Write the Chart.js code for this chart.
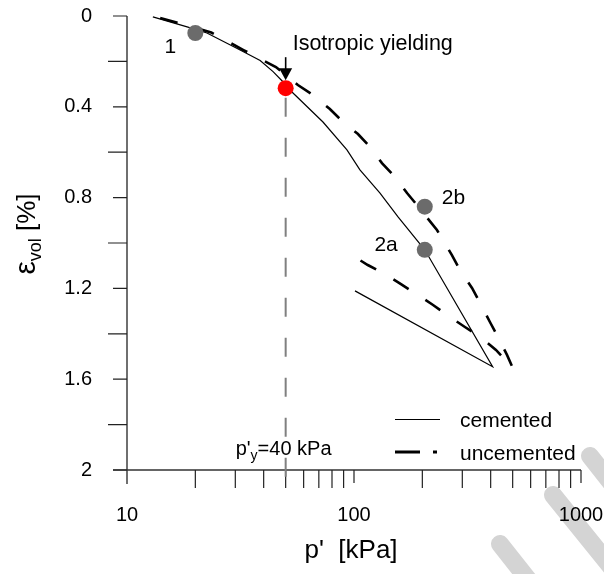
<!DOCTYPE html>
<html><head><meta charset="utf-8">
<script src="https://cdn.jsdelivr.net/npm/chart.js@4.4.1/dist/chart.umd.min.js"></script>
<style>html,body{margin:0;padding:0;background:#fff}#wrap{width:604px;height:574px}</style>
</head><body><div id="wrap"><canvas id="c" width="604" height="574"></canvas></div>
<script>
// ---- data ----
const cementedP   = [13.0, 18.4, 22.5, 31.5, 38.6, 44.0, 50.2, 53.3, 73.0, 93.1, 106.2, 130.2, 156.3, 205, 408, 101];
const cementedEps = [0.004, 0.048, 0.075, 0.150, 0.196, 0.245, 0.304, 0.335, 0.467, 0.590, 0.678, 0.780, 0.885, 1.030, 1.545, 1.211];

const uncementedP   = [14.0, 17.5, 23.5, 32.6, 45.3, 56.6, 65.9, 78.3, 89.5, 104.1, 117.7, 132.8, 151.6, 171.2, 189.5, 232, 270, 293, 331, 359, 397, 431, 472, 501,
                       422, 366, 308, 265, 223, 191, 161, 137, 115, 101];
const uncementedEps = [0.009, 0.035, 0.073, 0.150, 0.225, 0.304, 0.348, 0.410, 0.467, 0.520, 0.577, 0.648, 0.709, 0.780, 0.833, 0.943, 1.053, 1.119, 1.198, 1.264, 1.348, 1.414, 1.493, 1.551,
                       1.471, 1.419, 1.370, 1.326, 1.273, 1.229, 1.181, 1.137, 1.097, 1.062];

const markerP      = [20, 50, 205, 205];
const markerEps    = [0.075, 0.318, 0.840, 1.030];
const markerLabels = ['1', '', '2b', '2a'];
const markerColors = ['#6b6b6b', '#ff0000', '#6b6b6b', '#6b6b6b'];

const yieldP = 50;
const xTickValues = [10, 100, 1000];
const xMinorTicks = [20, 30, 40, 50, 60, 70, 80, 90, 200, 300, 400, 500, 600, 700, 800, 900];
const yTickValues = [0, 0.4, 0.8, 1.2, 1.6, 2];
const yMinorTicks = [0.2, 0.6, 1.0, 1.4, 1.8];

const FONT = '"Liberation Sans", Arial, Helvetica, sans-serif';

function pts(xs, ys) { return xs.map((x, i) => ({x: x, y: ys[i]})); }

const decor = {
  id: 'decor',
  beforeDraw(chart) {
    const ctx = chart.ctx;
    ctx.save();
    ctx.fillStyle = '#fff';
    ctx.fillRect(0, 0, chart.width, chart.height);
    // faint watermark strokes (decoration)
    ctx.strokeStyle = '#d4d4d4';
    ctx.lineWidth = 18;
    ctx.lineCap = 'round';
    [[590, 456, 620, 494], [553, 495, 620, 578], [500, 544, 530, 582]].forEach(s => {
      ctx.beginPath(); ctx.moveTo(s[0], s[1]); ctx.lineTo(s[2], s[3]); ctx.stroke();
    });
    ctx.restore();
  },
  afterDraw(chart) {
    const ctx = chart.ctx;
    const xs = chart.scales.x, ys = chart.scales.y;
    const x0 = xs.getPixelForValue(10);
    const y0 = ys.getPixelForValue(2);
    const yTop = ys.getPixelForValue(0);
    const xEnd = xs.getPixelForValue(1000);
    ctx.save();
    // axes
    ctx.strokeStyle = '#333';
    ctx.lineWidth = 1.4;
    ctx.beginPath();
    ctx.moveTo(x0, yTop); ctx.lineTo(x0, y0 + 14);
    ctx.moveTo(x0 - 14, y0); ctx.lineTo(xEnd, y0);
    ctx.stroke();
    ctx.lineWidth = 1.2;
    ctx.strokeStyle = '#222';
    ctx.beginPath();
    yTickValues.forEach(v => { const y = ys.getPixelForValue(v); ctx.moveTo(x0 - 14, y); ctx.lineTo(x0, y); });
    yMinorTicks.forEach(v => { const y = ys.getPixelForValue(v); ctx.moveTo(x0 - 19, y); ctx.lineTo(x0, y); });
    xTickValues.slice(1).forEach(v => { const x = xs.getPixelForValue(v); ctx.moveTo(x, y0); ctx.lineTo(x, y0 + 13); });
    xMinorTicks.forEach(v => { const x = xs.getPixelForValue(v); ctx.moveTo(x, y0); ctx.lineTo(x, y0 + 18); });
    ctx.stroke();

    // yield vertical dashed line
    const xy = xs.getPixelForValue(yieldP);
    ctx.strokeStyle = '#808080';
    ctx.lineWidth = 2;
    ctx.setLineDash([19, 21]);
    ctx.beginPath();
    ctx.moveTo(xy, ys.getPixelForValue(0.36));
    ctx.lineTo(xy, y0 + 18);
    ctx.stroke();
    ctx.setLineDash([]);

    // arrow to yield point
    const yr = ys.getPixelForValue(markerEps[1]);
    ctx.strokeStyle = '#000';
    ctx.fillStyle = '#000';
    ctx.lineWidth = 1.6;
    ctx.beginPath();
    ctx.moveTo(xy, yr - 31); ctx.lineTo(xy, yr - 15);
    ctx.stroke();
    ctx.beginPath();
    ctx.moveTo(xy - 6.5, yr - 20); ctx.lineTo(xy + 6.5, yr - 20); ctx.lineTo(xy, yr - 8); ctx.closePath();
    ctx.fill();

    // texts
    ctx.fillStyle = '#000';
    ctx.textBaseline = 'alphabetic';
    ctx.textAlign = 'left';
    ctx.font = '21.5px ' + FONT;
    ctx.fillText('Isotropic yielding', xy + 7, yr - 38);

    ctx.font = '21px ' + FONT;
    const mx = i => xs.getPixelForValue(markerP[i]);
    const my = i => ys.getPixelForValue(markerEps[i]);
    ctx.textAlign = 'center';
    ctx.fillText(markerLabels[0], mx(0) - 25, my(0) + 20);
    ctx.textAlign = 'left';
    ctx.fillText(markerLabels[2], mx(2) + 17, my(2) - 3);
    ctx.textAlign = 'right';
    ctx.fillText(markerLabels[3], mx(3) - 27, my(3) + 1);

    // p'y = 40 kPa label
    ctx.textAlign = 'left';
    let tx = xy - 50;
    const tb = y0 - 15;
    ctx.font = '20px ' + FONT;
    ctx.fillText("p'", tx, tb); tx += ctx.measureText("p'").width;
    ctx.font = '14px ' + FONT;
    ctx.fillText('y', tx, tb + 5); tx += ctx.measureText('y').width;
    ctx.font = '20px ' + FONT;
    ctx.fillText('=40 kPa', tx, tb);

    // legend
    ctx.strokeStyle = '#000';
    ctx.lineWidth = 1.2;
    ctx.beginPath(); ctx.moveTo(395, 419.5); ctx.lineTo(440, 419.5); ctx.stroke();
    ctx.lineWidth = 2.8;
    ctx.beginPath(); ctx.moveTo(395, 452); ctx.lineTo(420, 452); ctx.moveTo(433, 452); ctx.lineTo(437, 452); ctx.stroke();
    ctx.font = '21px ' + FONT;
    ctx.fillText('cemented', 460, 427);
    ctx.fillText('uncemented', 460, 460);

    // x title
    ctx.font = '26px ' + FONT;
    ctx.textAlign = 'center';
    ctx.fillText("p'  [kPa]", (x0 + xEnd) / 2 - 3, 558);

    // y title (rotated)
    ctx.save();
    ctx.translate(35, 234);
    ctx.rotate(-Math.PI / 2);
    ctx.textAlign = 'left';
    ctx.font = '30px ' + FONT;
    const wE = ctx.measureText('\u03b5').width;
    ctx.font = '18px ' + FONT;
    const wV = ctx.measureText('vol').width;
    ctx.font = '26px ' + FONT;
    const wP = ctx.measureText(' [%]').width;
    let sx = -(wE + wV + wP) / 2;
    ctx.font = '30px ' + FONT;
    ctx.fillText('\u03b5', sx, 0); sx += wE;
    ctx.font = '18px ' + FONT;
    ctx.fillText('vol', sx, 6); sx += wV;
    ctx.font = '26px ' + FONT;
    ctx.fillText(' [%]', sx, 0);
    ctx.restore();

    ctx.restore();
  }
};

new Chart(document.getElementById('c'), {
  type: 'scatter',
  data: {
    datasets: [
      {
        label: 'markers',
        data: pts(markerP, markerEps),
        pointRadius: 8,
        pointBackgroundColor: markerColors,
        pointBorderWidth: 0,
        showLine: false
      },
      {
        label: 'cemented',
        data: pts(cementedP, cementedEps),
        showLine: true,
        borderColor: '#000',
        borderWidth: 1.2,
        pointRadius: 0,
        tension: 0,
        fill: false
      },
      {
        label: 'uncemented',
        data: pts(uncementedP, uncementedEps),
        showLine: true,
        borderColor: '#000',
        borderWidth: 2.6,
        borderDash: [18, 20],
        pointRadius: 0,
        tension: 0,
        fill: false
      }
    ]
  },
  options: {
    responsive: false,
    animation: false,
    devicePixelRatio: 1,
    layout: { padding: { top: 16, right: 23, left: 0, bottom: 0 } },
    plugins: { legend: { display: false }, tooltip: { enabled: false } },
    scales: {
      x: {
        type: 'logarithmic',
        min: 10, max: 1000,
        position: 'bottom',
        grid: { display: false, drawTicks: false },
        border: { display: false },
        afterBuildTicks: s => { s.ticks = xTickValues.map(v => ({ value: v })); },
        afterFit: s => { s.height = 104; s.paddingLeft = 0; s.paddingRight = 0; },
        ticks: {
          autoSkip: false, maxRotation: 0, padding: 33,
          color: '#000', font: { family: FONT, size: 20 },
          callback: v => String(v)
        }
      },
      y: {
        type: 'linear',
        reverse: true,
        min: 0, max: 2,
        grid: { display: false, drawTicks: false },
        border: { display: false },
        afterBuildTicks: s => { s.ticks = yTickValues.map(v => ({ value: v })); },
        afterFit: s => { s.width = 127; s.paddingTop = 0; s.paddingBottom = 0; },
        ticks: {
          padding: 35,
          color: '#000', font: { family: FONT, size: 20 },
          callback: v => String(v)
        }
      }
    }
  },
  plugins: [decor]
});
</script>
</body></html>
